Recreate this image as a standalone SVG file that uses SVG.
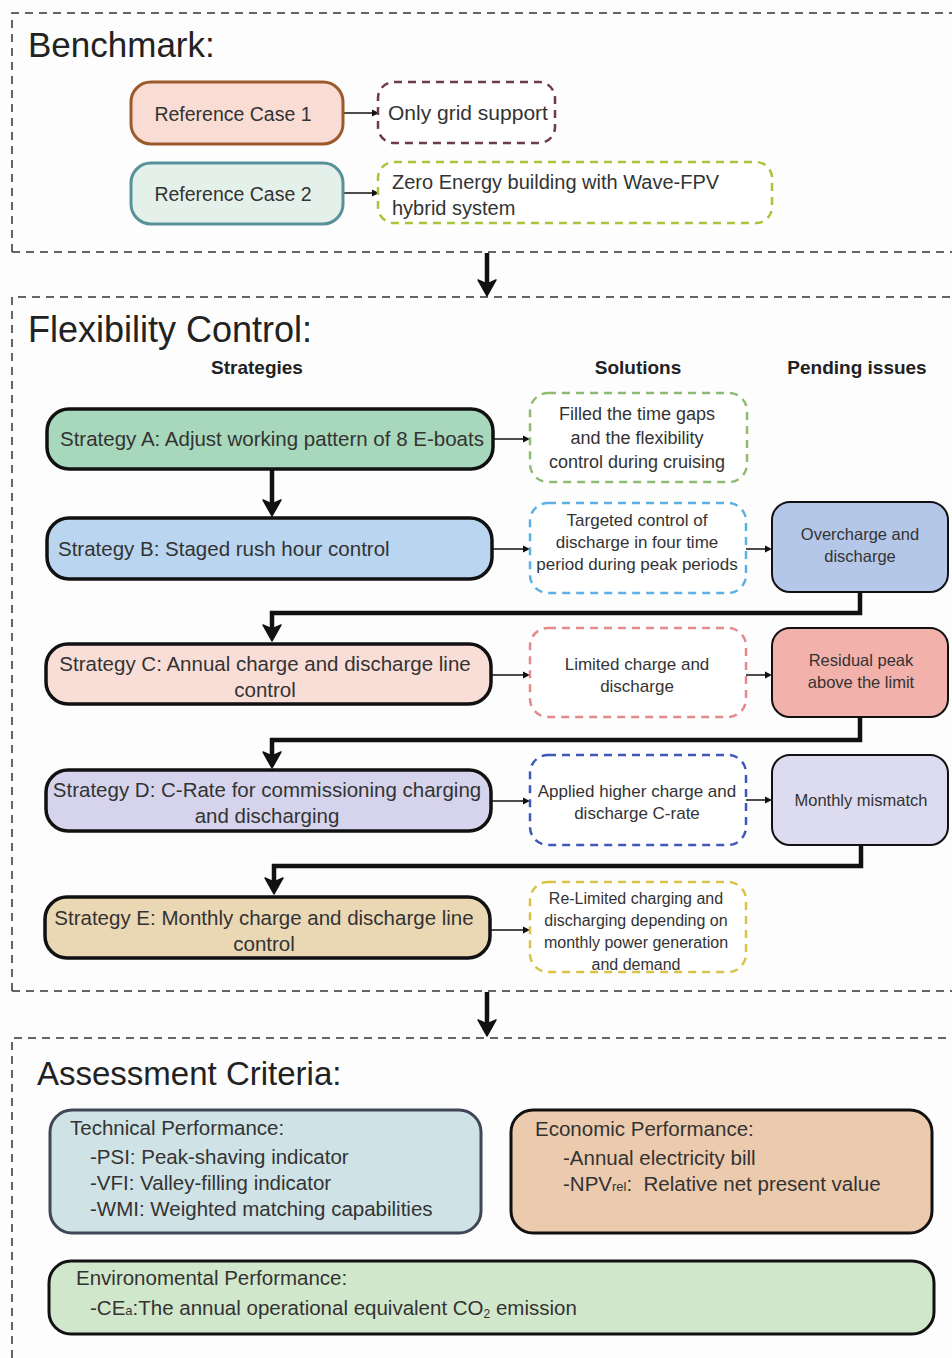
<svg xmlns="http://www.w3.org/2000/svg" width="952" height="1358" viewBox="0 0 952 1358">
<defs>
<style>
text{font-family:"Liberation Sans",Arial,sans-serif;fill:#333}
.title{font-size:35px;fill:#222}
.hdr{font-size:19px;font-weight:bold;fill:#222}
.frame{fill:none;stroke:#333;stroke-width:1.5;stroke-dasharray:8 6}
.strat{stroke:#111;stroke-width:3.5}
.st{font-size:20.5px}
.sol{fill:#fff;stroke-width:2.5;stroke-dasharray:8 6}
.so{font-size:17px;text-anchor:middle}
.pend{stroke:#111;stroke-width:2}
.pe{font-size:16.5px;text-anchor:middle}
.thin{fill:none;stroke:#111;stroke-width:1.5;marker-end:url(#ah)}
.thick{fill:none;stroke:#111;stroke-width:4.5;marker-end:url(#ahb)}
.crit{stroke-width:3}
.ct{font-size:20.5px;white-space:pre}
</style>
<marker id="ah" markerUnits="userSpaceOnUse" markerWidth="10" markerHeight="10" orient="auto" overflow="visible">
<path d="M0,-3.5 L7,0 L0,3.5 Z" fill="#111"/>
</marker>
<marker id="ahb" markerUnits="userSpaceOnUse" markerWidth="20" markerHeight="20" orient="auto" overflow="visible">
<path d="M12,0 L-4,-9 L0,0 L-4,9 Z" fill="#111" stroke="#111" stroke-width="1.5" stroke-linejoin="round"/>
</marker>
</defs>
<rect width="952" height="1358" fill="#fdfdfd"/>

<g id="frames">
<path class="frame" d="M12,252 L12,13 L952,13 M12,252 L952,252"/>
<path class="frame" d="M12,991 L12,297 L952,297 M12,991 L952,991"/>
<path class="frame" d="M12,1358 L12,1038 L952,1038"/>
<text class="title" x="28" y="57">Benchmark:</text>
<text class="title" x="28" y="342" style="font-size:36px">Flexibility Control:</text>
<text class="title" x="37" y="1085" style="font-size:33px">Assessment Criteria:</text>
<text class="hdr" x="257" y="374" text-anchor="middle">Strategies</text>
<text class="hdr" x="638" y="374" text-anchor="middle">Solutions</text>
<text class="hdr" x="857" y="374" text-anchor="middle">Pending issues</text>
</g>

<g id="connectors">
<path class="thin" d="M343,113 L372,113"/>
<path class="thin" d="M343,193 L372,193"/>
<path class="thick" d="M487,253 L487,284"/>
<path class="thin" d="M493,439 L523,439"/>
<path class="thick" d="M272,469 L272,504"/>
<path class="thin" d="M492,549 L523,549"/>
<path class="thin" d="M746,549 L765,549"/>
<path class="thick" d="M860,592 L860,613 L272,613 L272,629"/>
<path class="thin" d="M491,675 L523,675"/>
<path class="thin" d="M746,675 L765,675"/>
<path class="thick" d="M860,717 L860,740 L272,740 L272,756"/>
<path class="thin" d="M491,801 L523,801"/>
<path class="thin" d="M746,800 L765,800"/>
<path class="thick" d="M861,845 L861,866 L274,866 L274,882"/>
<path class="thin" d="M490,930 L523,930"/>
<path class="thick" d="M487,992 L487,1024"/>
</g>

<g id="ref1">
<rect x="131" y="82" width="212" height="62" rx="20" fill="#f9dcd4" stroke="#9c5a2c" stroke-width="3"/>
<text x="233" y="121" text-anchor="middle" style="font-size:19.5px">Reference Case 1</text>
</g>
<g id="ref1sol">
<rect x="378" y="82" width="177" height="61" rx="16" fill="#fff" stroke="#6d3b4c" stroke-width="2.5" stroke-dasharray="8 6"/>
<text x="388" y="120" style="font-size:21px">Only grid support</text>
</g>
<g id="ref2">
<rect x="131" y="163" width="212" height="61" rx="20" fill="#e4f1ea" stroke="#58919a" stroke-width="3"/>
<text x="233" y="201" text-anchor="middle" style="font-size:19.5px">Reference Case 2</text>
</g>
<g id="ref2sol">
<rect x="378" y="162" width="394" height="61" rx="16" fill="#fff" stroke="#a9c43a" stroke-width="2.5" stroke-dasharray="8 6"/>
<text x="392" y="189" style="font-size:20px">Zero Energy building with Wave-FPV</text>
<text x="392" y="215" style="font-size:20px">hybrid system</text>
</g>

<g id="stratA">
<rect class="strat" x="47" y="409" width="446" height="60" rx="22" fill="#a8d8bb"/>
<text class="st" x="60" y="446">Strategy A: Adjust working pattern of 8 E-boats</text>
</g>
<g id="solA">
<rect class="sol" x="530" y="393" width="217" height="89" rx="18" stroke="#8fba72"/>
<text class="so" x="637" y="420" style="font-size:18px">Filled the time gaps</text>
<text class="so" x="637" y="444" style="font-size:18px">and the flexibility</text>
<text class="so" x="637" y="468" style="font-size:18px">control during cruising</text>
</g>

<g id="stratB">
<rect class="strat" x="47" y="518" width="445" height="61" rx="22" fill="#b9d5ef"/>
<text class="st" x="58" y="556">Strategy B: Staged rush hour control</text>
</g>
<g id="solB">
<rect class="sol" x="530" y="503" width="216" height="90" rx="18" stroke="#5cb0e4"/>
<text class="so" x="637" y="526">Targeted control of</text>
<text class="so" x="637" y="548">discharge in four time</text>
<text class="so" x="637" y="570">period during peak periods</text>
</g>
<g id="pendB">
<rect class="pend" x="772" y="502" width="176" height="90" rx="18" fill="#b4c7e8"/>
<text class="pe" x="860" y="540">Overcharge and</text>
<text class="pe" x="860" y="562">discharge</text>
</g>

<g id="stratC">
<rect class="strat" x="46" y="644" width="445" height="60" rx="22" fill="#f9ddd7"/>
<text class="st" x="265" y="671" text-anchor="middle">Strategy C: Annual charge and discharge line</text>
<text class="st" x="265" y="697" text-anchor="middle">control</text>
</g>
<g id="solC">
<rect class="sol" x="530" y="628" width="216" height="89" rx="18" stroke="#e48a8c"/>
<text class="so" x="637" y="670">Limited charge and</text>
<text class="so" x="637" y="692">discharge</text>
</g>
<g id="pendC">
<rect class="pend" x="772" y="628" width="176" height="89" rx="18" fill="#f2b1ab"/>
<text class="pe" x="861" y="666">Residual peak</text>
<text class="pe" x="861" y="688">above the limit</text>
</g>

<g id="stratD">
<rect class="strat" x="46" y="770" width="445" height="61" rx="22" fill="#d5d4ec"/>
<text class="st" x="267" y="797" text-anchor="middle">Strategy D: C-Rate for commissioning charging</text>
<text class="st" x="267" y="823" text-anchor="middle">and discharging</text>
</g>
<g id="solD">
<rect class="sol" x="530" y="755" width="216" height="90" rx="18" stroke="#3d5ab8"/>
<text class="so" x="637" y="797">Applied higher charge and</text>
<text class="so" x="637" y="819">discharge C-rate</text>
</g>
<g id="pendD">
<rect class="pend" x="772" y="755" width="176" height="90" rx="18" fill="#dcdbef"/>
<text class="pe" x="861" y="806">Monthly mismatch</text>
</g>

<g id="stratE">
<rect class="strat" x="45" y="897" width="445" height="61" rx="22" fill="#ead7b3"/>
<text class="st" x="264" y="925" text-anchor="middle">Strategy E: Monthly charge and discharge line</text>
<text class="st" x="264" y="951" text-anchor="middle">control</text>
</g>
<g id="solE">
<rect class="sol" x="530" y="882" width="216" height="90" rx="18" stroke="#d9c248"/>
<text class="so" x="636" y="904" style="font-size:16px">Re-Limited charging and</text>
<text class="so" x="636" y="926" style="font-size:16px">discharging depending on</text>
<text class="so" x="636" y="948" style="font-size:16px">monthly power generation</text>
<text class="so" x="636" y="970" style="font-size:16px">and demand</text>
</g>

<g id="technical">
<rect class="crit" x="50" y="1110" width="431" height="123" rx="22" fill="#cfe2e5" stroke="#3f4656"/>
<text class="ct" x="70" y="1135">Technical Performance:</text>
<text class="ct" x="90" y="1164">-PSI: Peak-shaving indicator</text>
<text class="ct" x="90" y="1190">-VFI: Valley-filling indicator</text>
<text class="ct" x="90" y="1216">-WMI: Weighted matching capabilities</text>
</g>
<g id="economic">
<rect class="crit" x="511" y="1110" width="421" height="123" rx="22" fill="#eccaae" stroke="#111"/>
<text class="ct" x="535" y="1136">Economic Performance:</text>
<text class="ct" x="563" y="1165">-Annual electricity bill</text>
<text class="ct" x="563" y="1191">-NPV<tspan style="font-size:13px">rel</tspan>:  Relative net present value</text>
</g>
<g id="environmental">
<rect class="crit" x="49" y="1261" width="885" height="73" rx="22" fill="#d1e7cb" stroke="#111"/>
<text class="ct" x="76" y="1285">Environomental Performance:</text>
<text class="ct" x="90" y="1315">-CE<tspan style="font-size:13px">a</tspan>:The annual operational equivalent CO<tspan style="font-size:12px" dy="3">2</tspan><tspan dy="-3"> emission</tspan></text>
</g>
</svg>
